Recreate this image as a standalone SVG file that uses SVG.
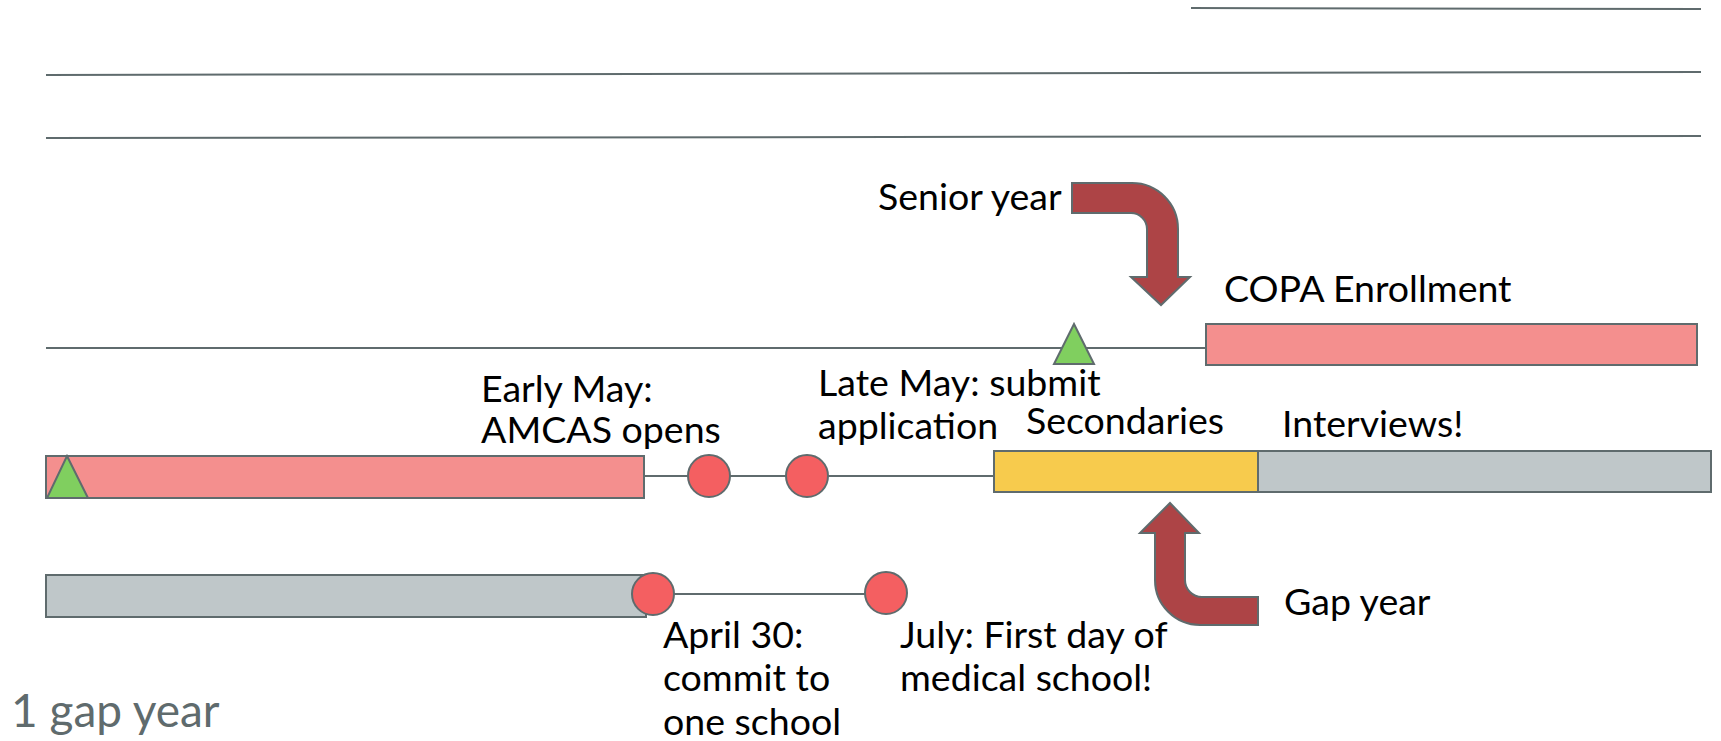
<svg xmlns="http://www.w3.org/2000/svg" width="1721" height="741" viewBox="0 0 1721 741">
<style>
.ln{stroke:#5f6b6d;stroke-width:2;fill:none}
.sh{stroke:#5f6b6d;stroke-width:2}
.pink{fill:#f48f8e}
.grey{fill:#bfc7c9}
.yel{fill:#f7cb4d}
.grn{fill:#80cf5f}
.dot{fill:#f45f61}
.arr{fill:#ad4446;stroke:#5f6b6d;stroke-width:2}
text{font-family:Lato,"Noto Sans","Liberation Sans",sans-serif;font-size:37.5px;fill:#000}
.ttl{font-size:46px;fill:#5f6b6d}
</style>
<rect width="1721" height="741" fill="#fff"/>
<g id="connectors">
<line class="ln" x1="1191" y1="8" x2="1701" y2="9"/>
<line class="ln" x1="46" y1="75" x2="1701" y2="72"/>
<line class="ln" x1="46" y1="138" x2="1701" y2="136"/>
<line class="ln" x1="46" y1="348" x2="1206" y2="348"/>
<line class="ln" x1="644" y1="476" x2="994" y2="476"/>
<line class="ln" x1="653" y1="594" x2="886" y2="594"/>
</g>
<g id="copa-bar"><rect class="pink sh" x="1206" y="324" width="491" height="41"/></g>
<g id="copa-label"><text x="1224" y="302">COPA Enrollment</text></g>
<g id="tri-row1"><polygon class="grn sh" points="1074,324 1094,364 1054,364"/></g>
<g id="senior-arrow"><path class="arr" d="M1072,183 L1132,183 A46,46 0 0 1 1178,229 L1178,277 L1190,277 L1161,305 L1131,277 L1147,277 L1147,229 A16,16 0 0 0 1131,213 L1072,213 Z"/></g>
<g id="senior-label"><text x="878" y="210">Senior year</text></g>
<g id="pink-bar"><rect class="pink sh" x="46" y="456" width="598" height="42"/></g>
<g id="tri-row2"><polygon class="grn sh" points="67,456 88,498 47,498"/></g>
<g id="dot1"><circle class="dot sh" cx="709" cy="476" r="21"/></g>
<g id="dot2"><circle class="dot sh" cx="807" cy="476" r="21"/></g>
<g id="secondaries-bar"><rect class="yel sh" x="994" y="451" width="264" height="41"/></g>
<g id="interviews-bar"><rect class="grey sh" x="1258" y="451" width="453" height="41"/></g>
<g id="early-may"><text x="481" y="402">Early May:</text><text x="481" y="443">AMCAS opens</text></g>
<g id="late-may"><text x="818" y="396">Late May: submit</text><text x="818" y="439">application</text></g>
<g id="secondaries-label"><text x="1026" y="434">Secondaries</text></g>
<g id="interviews-label"><text x="1282" y="437">Interviews!</text></g>
<g id="gap-arrow"><path class="arr" d="M1170,503 L1199,533 L1185,533 L1185,580 A17,17 0 0 0 1202,597 L1258,597 L1258,625 L1200,625 A45,45 0 0 1 1155,580 L1155,533 L1140,533 Z"/></g>
<g id="gap-label"><text x="1284" y="615">Gap year</text></g>
<g id="grey-bar"><rect class="grey sh" x="46" y="575" width="600" height="42"/></g>
<g id="dot3"><circle class="dot sh" cx="653" cy="594" r="21"/></g>
<g id="dot4"><circle class="dot sh" cx="886" cy="593" r="21"/></g>
<g id="april"><text x="663" y="648">April 30:</text><text x="663" y="691">commit to</text><text x="663" y="735">one school</text></g>
<g id="july"><text x="900" y="648">July: First day of</text><text x="900" y="691">medical school!</text></g>
<g id="title"><text class="ttl" x="11" y="727">1 gap year</text></g>
</svg>
